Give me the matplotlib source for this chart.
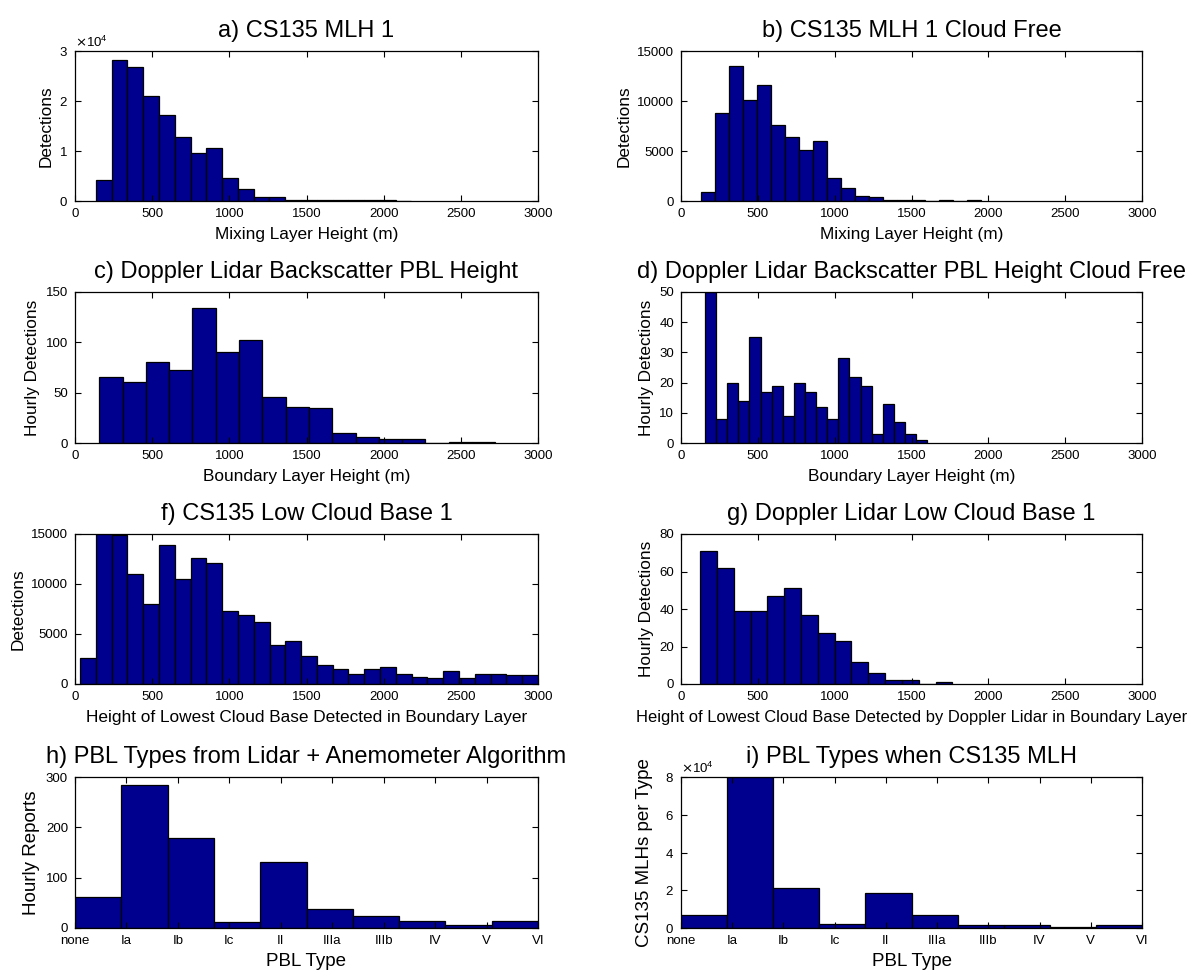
import numpy as np
import matplotlib
matplotlib.use("Agg")
import matplotlib.pyplot as plt
from matplotlib.ticker import ScalarFormatter

plt.rcParams['font.family'] = ['Liberation Sans', 'DejaVu Sans']

# ---------------- data ----------------
# a) CS135 MLH 1
a_start, a_width = 135, 102.25
a_counts = [4200, 28300, 26900, 21000, 17300, 12800, 9600, 10700, 4600, 2400,
            860, 860, 300, 250, 200, 200, 150, 150, 120, 100]
# b) CS135 MLH 1 Cloud Free
b_start, b_width = 132, 91
b_counts = [900, 8800, 13500, 10100, 11600, 7600, 6400, 5100, 6000, 2260,
            1300, 530, 400, 130, 130, 130, 0, 100, 0, 100]
# c) Doppler Lidar Backscatter PBL Height
c_start, c_width = 157, 151
c_counts = [66, 61, 80, 73, 134, 90, 102, 46, 36, 35, 10, 6, 4, 4, 0, 1, 1]
# d) Doppler Lidar Backscatter PBL Height Cloud Free
d_start, d_width = 156, 72.3
d_counts = [50, 8, 20, 14, 35, 17, 19, 9, 20, 17, 12, 8, 28, 22, 19, 3, 13, 7, 3, 1]
# f) CS135 Low Cloud Base 1
f_start, f_width = 33, 102.3
f_counts = [2600, 15000, 14900, 11000, 8000, 13950, 10500, 12600, 12100, 7300,
            6900, 6200, 3950, 4300, 2800, 1860, 1460, 1030, 1530, 1700,
            1030, 730, 600, 1300, 600, 1030, 1030, 900, 900]
# g) Doppler Lidar Low Cloud Base 1
g_start, g_width = 124, 109.5
g_counts = [71, 62, 39, 39, 47, 51, 37, 27, 23, 12, 6, 2, 2, 0, 1]
# h) / i) PBL types
pbl_types = ['none', 'Ia', 'Ib', 'Ic', 'II', 'IIIa', 'IIIb', 'IV', 'V', 'VI']
type_bin_width = 0.9
h_counts = [61, 285, 178, 11, 132, 38, 24, 13, 5, 13]
i_counts = [7000, 80000, 21100, 2300, 18500, 7000, 1400, 1400, 700, 1400]

x_ticks_m = [0, 500, 1000, 1500, 2000, 2500, 3000]

# ---------------- style ----------------
BAR = '#00008F'
W, H = 1195, 977
fig = plt.figure(figsize=(W / 100, H / 100), dpi=100)


def pos(x0, x1, y0, y1):
    return [x0 / W, 1 - y1 / H, (x1 - x0) / W, (y1 - y0) / H]


LX0, LX1 = 75, 538
RX0, RX1 = 681, 1142
rows = [(51, 201), (292, 443), (534, 684), (777, 928)]

TFS = 17      # titles
LFS = 12.4    # axis labels of histogram panels
TLFS = 13.5   # axis labels of the PBL type panels
TKFS = 9.5    # tick labels


def style(ax):
    ax.tick_params(direction='in', top=True, right=True, length=4, width=0.8,
                   labelsize=TKFS, pad=5)
    for s in ax.spines.values():
        s.set_linewidth(0.9)


def sci_axis(ax):
    fmt = ScalarFormatter(useMathText=True)
    fmt.set_powerlimits((0, 0))
    ax.yaxis.set_major_formatter(fmt)
    ax.yaxis.get_offset_text().set_fontsize(TKFS)


def hist_axes(rect, start, width, counts, title, xlabel, ylabel, ymax, yticks,
              sci=False, xlfs=LFS):
    ax = fig.add_axes(rect)
    counts = np.asarray(counts, dtype=float)
    left = start + width * np.arange(len(counts))
    ax.bar(left, counts, width=width, align='edge', color=BAR,
           edgecolor='black', linewidth=0.9)
    ax.set_xlim(0, 3000)
    ax.set_xticks(x_ticks_m)
    ax.set_ylim(0, ymax)
    ax.set_yticks(yticks)
    ax.set_title(title, fontsize=TFS, pad=10)
    ax.set_xlabel(xlabel, fontsize=xlfs, labelpad=5)
    ax.set_ylabel(ylabel, fontsize=LFS, labelpad=4)
    style(ax)
    if sci:
        sci_axis(ax)
    return ax


hist_axes(pos(LX0, LX1, *rows[0]), a_start, a_width, a_counts,
          'a) CS135 MLH 1', 'Mixing Layer Height (m)', 'Detections',
          30000, [0, 10000, 20000, 30000], sci=True)
hist_axes(pos(RX0, RX1, *rows[0]), b_start, b_width, b_counts,
          'b) CS135 MLH 1 Cloud Free', 'Mixing Layer Height (m)', 'Detections',
          15000, [0, 5000, 10000, 15000])
hist_axes(pos(LX0, LX1, *rows[1]), c_start, c_width, c_counts,
          'c) Doppler Lidar Backscatter PBL Height', 'Boundary Layer Height (m)',
          'Hourly Detections', 150, [0, 50, 100, 150])
hist_axes(pos(RX0, RX1, *rows[1]), d_start, d_width, d_counts,
          'd) Doppler Lidar Backscatter PBL Height Cloud Free',
          'Boundary Layer Height (m)', 'Hourly Detections', 50,
          [0, 10, 20, 30, 40, 50])
hist_axes(pos(LX0, LX1, *rows[2]), f_start, f_width, f_counts,
          'f) CS135 Low Cloud Base 1',
          'Height of Lowest Cloud Base Detected in Boundary Layer', 'Detections',
          15000, [0, 5000, 10000, 15000])
hist_axes(pos(RX0, RX1, *rows[2]), g_start, g_width, g_counts,
          'g) Doppler Lidar Low Cloud Base 1',
          'Height of Lowest Cloud Base Detected by Doppler Lidar in Boundary Layer',
          'Hourly Detections', 80, [0, 20, 40, 60, 80], xlfs=11.9)


def type_axes(rect, counts, title, ylabel, ymax, yticks, ylabelpad, sci=False):
    ax = fig.add_axes(rect)
    left = type_bin_width * np.arange(len(counts))
    ax.bar(left, counts, width=type_bin_width, align='edge', color=BAR,
           edgecolor='black', linewidth=0.9)
    ax.set_xlim(0, len(pbl_types) - 1)
    ax.set_xticks(np.arange(len(pbl_types)))
    ax.set_xticklabels(pbl_types)
    ax.set_ylim(0, ymax)
    ax.set_yticks(yticks)
    ax.set_title(title, fontsize=TFS, pad=10)
    ax.set_xlabel('PBL Type', fontsize=TLFS, labelpad=4)
    ax.set_ylabel(ylabel, fontsize=TLFS, labelpad=ylabelpad)
    style(ax)
    if sci:
        sci_axis(ax)
    return ax


type_axes(pos(LX0, LX1, *rows[3]), h_counts,
          'h) PBL Types from Lidar + Anemometer Algorithm', 'Hourly Reports',
          300, [0, 100, 200, 300], 4)
type_axes(pos(RX0, RX1, *rows[3]), i_counts,
          'i) PBL Types when CS135 MLH', 'CS135 MLHs per Type',
          80000, [0, 20000, 40000, 60000, 80000], 9, sci=True)

fig.savefig('out.png', dpi=100)
